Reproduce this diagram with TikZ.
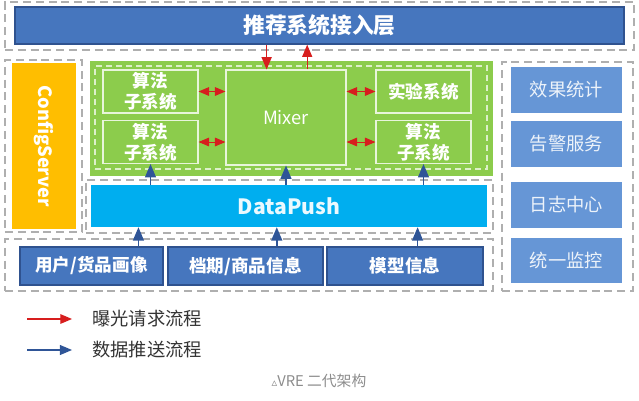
\documentclass[tikz,border=0pt]{standalone}
\usepackage{fontspec}
\setmainfont{Noto Sans CJK SC}
\newfontfamily\symfont{DejaVu Sans}
\usetikzlibrary{arrows, positioning, calc}

\definecolor{accblue}{RGB}{70,118,190}
\definecolor{accedge}{RGB}{47,82,143}
\definecolor{cfgorange}{RGB}{255,190,0}
\definecolor{onlinegreen}{RGB}{140,204,76}
\definecolor{pushcyan}{RGB}{0,174,239}
\definecolor{sideblue}{RGB}{102,150,214}
\definecolor{dashgray}{RGB}{175,175,175}
\definecolor{reqred}{RGB}{215,30,30}
\definecolor{pushblue}{RGB}{47,85,151}

\begin{document}
\begin{tikzpicture}[
        x=0.025cm, y=-0.025cm,
        every node/.style={inner sep=0pt, align=center},
        region/.style={draw=dashgray, line width=1.1pt, dash pattern=on 0.2cm off 0.12cm},
        darkbar/.style={fill=accblue, draw=accedge, line width=1pt, text=white,
            font=\fontsize{15.5}{18}\selectfont\bfseries},
        cfgbox/.style={fill=cfgorange, text=white, font=\fontsize{13}{15}\selectfont\bfseries},
        greenbg/.style={fill=onlinegreen},
        greendash/.style={draw=white!70!onlinegreen, line width=0.8pt, dash pattern=on 0.15cm off 0.1cm},
        subbox/.style={draw=white!80!onlinegreen, line width=0.8pt, text=white,
            minimum width=2.375cm, minimum height=1.075cm,
            font=\fontsize{12.5}{15}\selectfont\bfseries},
        pushbar/.style={fill=pushcyan, text=white!92!pushcyan, font=\fontsize{15}{17}\selectfont\bfseries},
        srcbox/.style={fill=accblue, draw=accedge, line width=1pt, text=white,
            minimum height=0.95cm, font=\fontsize{12.5}{15}\selectfont\bfseries},
        sidebox/.style={fill=sideblue, text=white!88!sideblue, minimum width=2.775cm,
            minimum height=1.125cm, font=\fontsize{13}{15}\selectfont},
        reqarrow/.style={draw=reqred, line width=1pt, -triangle 45},
        pusharrow/.style={draw=pushblue, line width=1.2pt, -triangle 45},
        legendtext/.style={anchor=west, text=black!80, font=\fontsize{13}{15}\selectfont}
    ]
        \useasboundingbox (0,0) rectangle (639,401);

        % 接入层
        \node[region, minimum width=15.725cm, minimum height=1.2cm] (topzone) at (319.5,26) {};
        \node[darkbar, minimum width=15.225cm, minimum height=0.925cm] (access) at (319.5,25.5) {推荐系统接入层};

        % ConfigServer
        \node[region, minimum width=1.925cm, minimum height=4.3cm] (cfgzone) at (43.5,146) {};
        \node[cfgbox, rotate=-90, minimum width=4.15cm, minimum height=1.6cm] (cfg) at (44,146) {ConfigServer};

        % 在线部分
        \node[greenbg, minimum width=10.075cm, minimum height=2.875cm] (online) at (291.5,118.5) {};
        \node[greendash, minimum width=9.8cm, minimum height=2.575cm] (onlinein) at (291,117.5) {};
        \node[subbox] (alg1) at (150.5,91.5) {算法\\子系统};
        \node[subbox] (alg2) at (150.5,142) {算法\\子系统};
        \node[subbox, minimum width=3cm, minimum height=2.375cm, font=\fontsize{13}{15}\selectfont] (mixer) at (286,117.5) {Mixer};
        \node[subbox] (exp) at (423.5,91.5) {实验系统};
        \node[subbox] (alg3) at (423.5,142) {算法\\子系统};

        % DataPush
        \node[region, minimum width=10.175cm, minimum height=1.325cm] (pushzone) at (289.5,206.5) {};
        \node[pushbar, minimum width=9.9cm, minimum height=1.05cm] (push) at (289,206) {DataPush};

        % 数据源
        \node[region, minimum width=12.2cm, minimum height=1.3cm] (srczone) at (249,265) {};
        \node[srcbox, minimum width=3.575cm] (user) at (91.5,266) {用户/货品画像};
        \node[srcbox, minimum width=3.875cm] (item) at (245.5,266) {档期/商品信息};
        \node[srcbox, minimum width=3.9cm] (model) at (405,266) {模型信息};

        % 右侧服务
        \node[region, minimum width=3.275cm, minimum height=5.725cm] (sidezone) at (567.5,176.5) {};
        \node[sidebox] (stat) at (566.5,90) {效果统计};
        \node[sidebox] (alarm) at (566.5,144) {告警服务};
        \node[sidebox] (log) at (566.5,205) {日志中心};
        \node[sidebox] (monitor) at (566.5,260.5) {统一监控};

        % 曝光请求
        \coordinate (mixin) at ($(mixer.north west)!0.34!(mixer.north east)$);
        \coordinate (mixout) at ($(mixer.north west)!0.675!(mixer.north east)$);
        \draw[reqarrow] (access.south -| mixin) -- (mixin);
        \draw[reqarrow] (mixout) -- (access.south -| mixout);
        \draw[reqarrow, line width=0.7pt, triangle 45-triangle 45] (alg1.east) -- (alg1.east -| mixer.west);
        \draw[reqarrow, line width=0.7pt, triangle 45-triangle 45] (alg2.east) -- (alg2.east -| mixer.west);
        \draw[reqarrow, line width=0.7pt, triangle 45-triangle 45] (exp.west -| mixer.east) -- (exp.west);
        \draw[reqarrow, line width=0.7pt, triangle 45-triangle 45] (alg3.west -| mixer.east) -- (alg3.west);

        % 数据推送
        \draw[pusharrow] (push.north -| alg2.south) -- (alg2.south);
        \draw[pusharrow] (push.north -| mixer.south) -- (mixer.south);
        \draw[pusharrow] (push.north -| alg3.south) -- (alg3.south);
        \coordinate (userout) at ($(user.north west)!0.825!(user.north east)$);
        \coordinate (itemout) at ($(item.north west)!0.70!(item.north east)$);
        \coordinate (modelout) at ($(model.north west)!0.58!(model.north east)$);
        \draw[pusharrow] (userout) -- (push.south -| userout);
        \draw[pusharrow] (itemout) -- (push.south -| itemout);
        \draw[pusharrow] (modelout) -- (push.south -| modelout);

        % 图例
        \coordinate (reqa) at (27,319);
        \coordinate (reqb) at (72,319);
        \coordinate (pusha) at (27,350);
        \coordinate (pushb) at (72,350);
        \draw[reqarrow, line width=0.9pt] (reqa) -- (reqb);
        \draw[pusharrow, line width=1pt] (pusha) -- (pushb);
        \node[legendtext] (reqtext) at (92,319) {曝光请求流程};
        \node[legendtext] (pushtext) at (92,350) {数据推送流程};

        % 标题
        \node[text=black!45, font=\fontsize{10.5}{12}\selectfont] (caption) at (319,381)
            {{\symfont\fontsize{8}{10}\selectfont ▵}VRE 二代架构};
    \end{tikzpicture}
\end{document}
